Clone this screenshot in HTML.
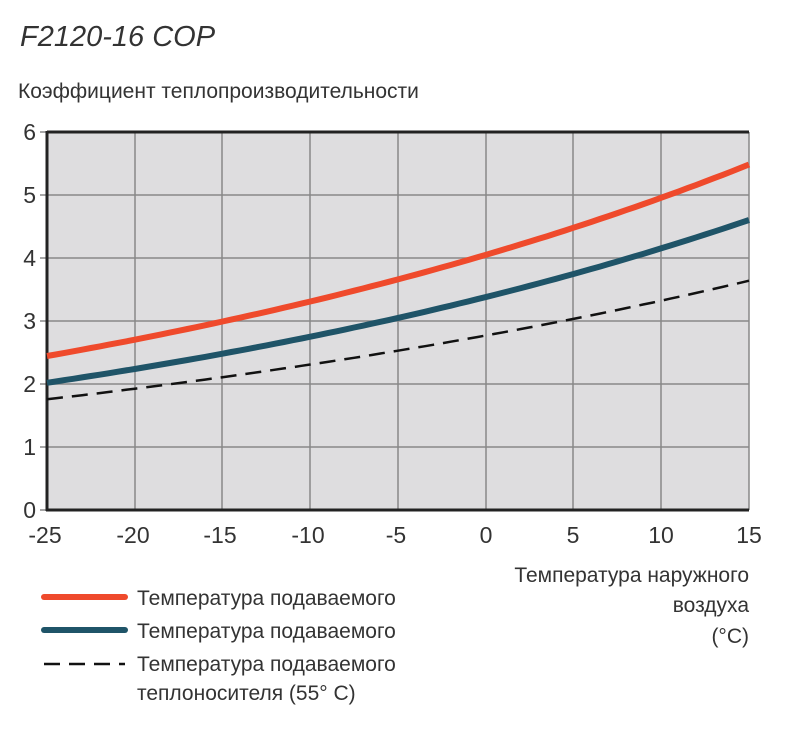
<!DOCTYPE html>
<html><head><meta charset="utf-8"><style>
body{margin:0;background:#fff;}
svg text{font-family:"Liberation Sans","DejaVu Sans",sans-serif;fill:#333;}
</style></head><body>
<svg id="s" width="790" height="728" viewBox="0 0 790 728" xmlns="http://www.w3.org/2000/svg">
<text x="20" y="46" font-size="29" font-style="italic" fill="#444">F2120-16 COP</text>
<text x="18" y="98" font-size="21">Коэффициент теплопроизводительности</text>
<rect x="47" y="132" width="702" height="378" fill="#dedddf"/>
<g stroke="#888" stroke-width="1.5">
<line x1="135" y1="132" x2="135" y2="510"/><line x1="222" y1="132" x2="222" y2="510"/>
<line x1="310" y1="132" x2="310" y2="510"/><line x1="398" y1="132" x2="398" y2="510"/>
<line x1="486" y1="132" x2="486" y2="510"/><line x1="573" y1="132" x2="573" y2="510"/>
<line x1="661" y1="132" x2="661" y2="510"/><line x1="749" y1="132" x2="749" y2="510"/>
<line x1="40" y1="195" x2="749" y2="195"/><line x1="40" y1="258" x2="749" y2="258"/>
<line x1="40" y1="321" x2="749" y2="321"/><line x1="40" y1="384" x2="749" y2="384"/>
<line x1="40" y1="447" x2="749" y2="447"/><line x1="40" y1="132" x2="47" y2="132"/>
<line x1="40" y1="510" x2="47" y2="510"/>
</g>
<g stroke="#222" stroke-width="3" fill="none">
<line x1="47" y1="132" x2="749" y2="132"/><line x1="47" y1="131" x2="47" y2="511"/><line x1="46" y1="510" x2="749" y2="510"/>
</g>
<g font-size="23" text-anchor="end">
<text x="36" y="140">6</text><text x="36" y="203">5</text><text x="36" y="266">4</text>
<text x="36" y="329">3</text><text x="36" y="392">2</text><text x="36" y="455">1</text><text x="36" y="518">0</text>
</g>
<g font-size="23" text-anchor="middle">
<text x="45" y="543">-25</text><text x="133" y="543">-20</text><text x="220" y="543">-15</text>
<text x="308" y="543">-10</text><text x="396" y="543">-5</text><text x="486" y="543">0</text>
<text x="573" y="543">5</text><text x="661" y="543">10</text><text x="749" y="543">15</text>
</g>
<path id="r" stroke="#ef4a2c" stroke-width="6" fill="none"/>
<path id="b" stroke="#1f5468" stroke-width="6" fill="none"/>
<path id="d" stroke="#111" stroke-width="2.5" stroke-dasharray="16,9" fill="none"/>
<g font-size="21" text-anchor="end">
<text x="749" y="582">Температура наружного</text>
<text x="749" y="612">воздуха</text>
<text x="749" y="643">(°C)</text>
</g>
<line x1="44" y1="597" x2="125" y2="597" stroke="#ef4a2c" stroke-width="6" stroke-linecap="round"/>
<line x1="44" y1="630" x2="125" y2="630" stroke="#1f5468" stroke-width="6" stroke-linecap="round"/>
<line x1="44" y1="664" x2="125" y2="664" stroke="#111" stroke-width="2.5" stroke-dasharray="16,9"/>
<g font-size="21">
<text x="137" y="605">Температура подаваемого</text>
<text x="137" y="638">Температура подаваемого</text>
<text x="137" y="671">Температура подаваемого</text>
<text x="137" y="700">теплоносителя (55° C)</text>
</g>
<script>
function mk(id,a,k){var s="";for(var t=-25;t<=15.001;t+=0.5){var x=47+17.55*(t+25),y=510-63*a*Math.exp(k*t);s+=(s?"L":"M")+x.toFixed(1)+","+y.toFixed(1);}document.getElementById(id).setAttribute("d",s);}
mk("r",4.05,0.0202);mk("b",3.38,0.0206);mk("d",2.77,0.0182);
</script>
</svg>
</body></html>
